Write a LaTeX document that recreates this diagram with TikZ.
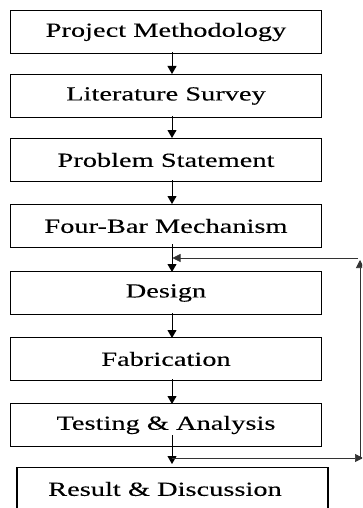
\documentclass[tikz,border=0pt]{standalone}
\usepackage{fontspec}
\newfontfamily\boxfont[FakeStretch=1.42,FakeBold=0.15]{Liberation Serif}
\usetikzlibrary{arrows.meta}
\tikzset{
  stepbox/.style={draw=black, line width=1.8pt, fill=white, minimum width=311pt, minimum height=43pt, inner sep=0pt, font=\boxfont\fontsize{20}{24}\selectfont},
  flow/.style={line width=0.9pt, -{Triangle[length=8pt,width=9pt]}},
  fb/.style={line width=0.7pt, draw=black!80, -{Triangle[length=8pt,width=8pt]}}
}
\begin{document}
\begin{tikzpicture}[x=1pt,y=-1pt]
\useasboundingbox (0,0) rectangle (362,508);
\clip (0,0) rectangle (362,508);
\fill[white] (0,0) rectangle (362,508);
\node[stepbox] (b1) at (166,32) {Project Methodology};
\node[stepbox] (b2) at (166,96) {Literature Survey};
\node[stepbox] (b3) at (166,160) {Problem Statement};
\node[stepbox] (b4) at (166,226) {Four-Bar Mechanism};
\node[stepbox] (b5) at (166,293) {Design};
\node[stepbox] (b6) at (166,359) {Fabrication};
\node[stepbox] (b7) at (166,425) {Testing \& Analysis};
\node[stepbox] (b8) at (172.5,489) {};
\node[font=\boxfont\fontsize{20}{24}\selectfont] (t8) at (165,489) {Result \& Discussion};
\draw[flow] (172,52) -- (172,74);
\draw[flow] (172,116) -- (172,138);
\draw[flow] (172,180) -- (172,204);
\draw[flow] (172,244) -- (172,272);
\draw[flow] (172,313) -- (172,338);
\draw[flow] (172,379) -- (172,404);
\draw[flow] (172,435) -- (172,464);
\coordinate (j1) at (172,458);
\coordinate (r1) at (363,458);
\coordinate (r1v) at (360,458);
\coordinate (r2v) at (360,260);
\coordinate (r2) at (358,258);
\coordinate (j2) at (172.5,258);
\draw[fb] (j1) -- (r1);
\draw[fb] (r1v) -- (r2v);
\draw[fb] (r2) -- (j2);
\end{tikzpicture}
\end{document}
